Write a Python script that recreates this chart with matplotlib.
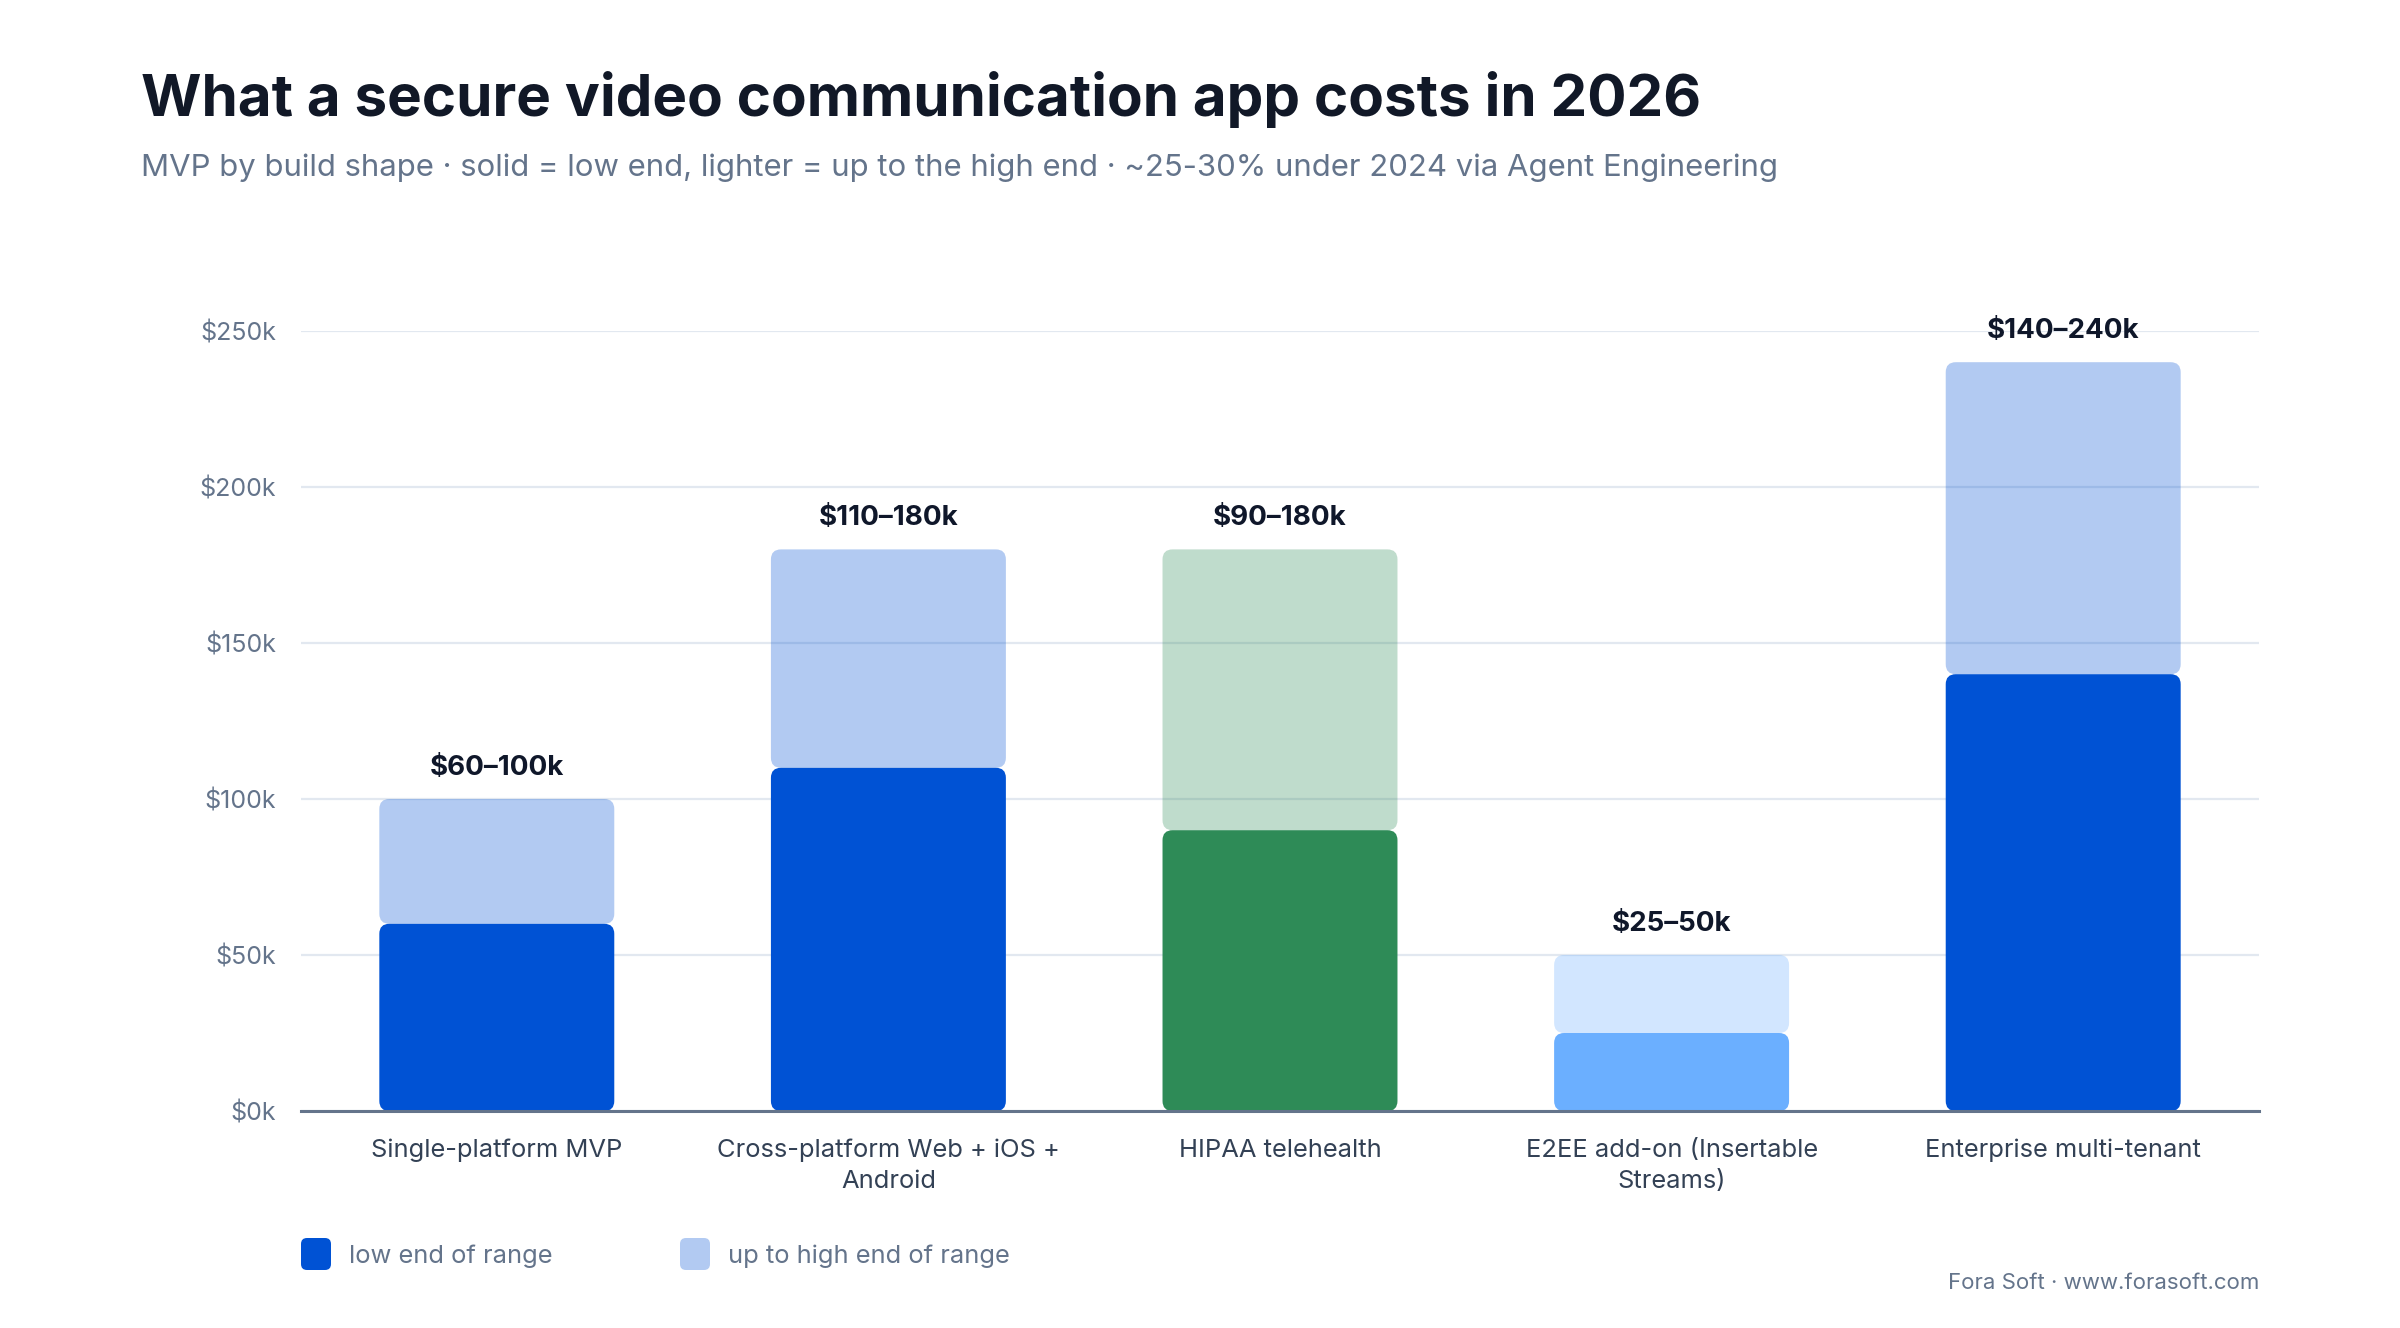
import matplotlib
matplotlib.use('Agg')
import matplotlib.pyplot as plt
from matplotlib.patches import FancyBboxPatch
from matplotlib.ticker import FuncFormatter

plt.rcParams['font.family'] = ['Inter', 'DejaVu Sans']

# data (USD)
categories = ['Single-platform MVP', 'Cross-platform Web + iOS +\nAndroid', 'HIPAA telehealth',
              'E2EE add-on (Insertable\nStreams)', 'Enterprise multi-tenant']
low_end = [60000, 110000, 90000, 25000, 140000]
high_end = [100000, 180000, 180000, 50000, 240000]
range_labels = ['$60\u2013100k', '$110\u2013180k', '$90\u2013180k', '$25\u201350k', '$140\u2013240k']
bar_colors = ['#0052D4', '#0052D4', '#2E8B57', '#6BAFFF', '#0052D4']
y_ticks = [0, 50000, 100000, 150000, 200000, 250000]

W, H, DPI = 2400, 1328, 200
fig = plt.figure(figsize=(W / DPI, H / DPI), dpi=DPI)
ax = fig.add_axes([301 / W, 1 - 1111 / H, (2259 - 301) / W, (1111 - 331) / H])

ax.set_xlim(-0.5, len(categories) - 0.5)
ax.set_ylim(0, 250000)

x = list(range(len(categories)))
spans = [h - l for l, h in zip(low_end, high_end)]
low_bars = ax.bar(x, low_end, width=0.6, color=bar_colors, zorder=3)
high_bars = ax.bar(x, spans, bottom=low_end, width=0.6, color=bar_colors, alpha=0.3, zorder=3)

# swap the plain rectangles for rounded ones
px_per_x = (2259 - 301) / 5.0
px_per_y = (1111 - 331) / 250000.0
radius_px = 10
rx = radius_px / px_per_x
aspect = (radius_px / px_per_y) / rx
for bars in (low_bars, high_bars):
    for r in bars:
        fb = FancyBboxPatch((r.get_x(), r.get_y()), r.get_width(), r.get_height(),
                            boxstyle=f'round,pad=0,rounding_size={rx}', mutation_aspect=aspect,
                            facecolor=r.get_facecolor(), edgecolor='none', zorder=3)
        ax.add_patch(fb)
        r.remove()

for xi, hi, lab in zip(x, high_end, range_labels):
    ax.annotate(lab, (xi, hi), xytext=(0, 6.5), textcoords='offset points', ha='center', va='bottom',
                fontsize=10, fontweight='bold', color='#0F172A', zorder=5, annotation_clip=False)

ax.set_yticks(y_ticks)
ax.yaxis.set_major_formatter(FuncFormatter(lambda v, p: f'${int(v / 1000)}k'))
ax.set_xticks(x)
ax.set_xticklabels(categories, fontsize=9.2, color='#334155', linespacing=1.45)
ax.tick_params(axis='x', length=0, pad=10)
ax.tick_params(axis='y', length=0, pad=9, labelsize=9, labelcolor='#64748B')
ax.grid(axis='y', color='#E2E8F0', linewidth=0.8, zorder=0)
ax.set_axisbelow(True)
for s in ['top', 'right', 'left']:
    ax.spines[s].set_visible(False)
ax.spines['bottom'].set_color('#64748B')
ax.spines['bottom'].set_linewidth(1.1)
ax.spines['bottom'].set_zorder(4)

# title and subtitle
fig.text(141 / W, 1 - 100 / H, 'What a secure video communication app costs in 2026',
         fontsize=21, fontweight='bold', color='#111827', va='center', ha='left')
fig.text(141 / W, 1 - 168 / H,
         'MVP by build shape \u00b7 solid = low end, lighter = up to the high end \u00b7 ~25-30% under 2024 via Agent Engineering',
         fontsize=11.2, color='#64748B', va='center', ha='left')

# legend
legend_items = [('low end of range', '#0052D4', 1.0, 301), ('up to high end of range', '#0052D4', 0.3, 680)]
for text, col, a, lx in legend_items:
    sq = FancyBboxPatch((lx / DPI, (H - 1270) / DPI), 30 / DPI, 32 / DPI,
                        boxstyle=f'round,pad=0,rounding_size={6 / DPI}', transform=fig.dpi_scale_trans,
                        facecolor=col, alpha=a, edgecolor='none')
    fig.patches.append(sq)
    fig.text((lx + 48) / W, 1 - 1256 / H, text, fontsize=9.2, color='#64748B', va='center', ha='left')

fig.text(2259 / W, 1 - 1283 / H, 'Fora Soft \u00b7 www.forasoft.com', fontsize=8, color='#64748B',
         va='center', ha='right')

fig.savefig('out.png', dpi=DPI, facecolor='white')
